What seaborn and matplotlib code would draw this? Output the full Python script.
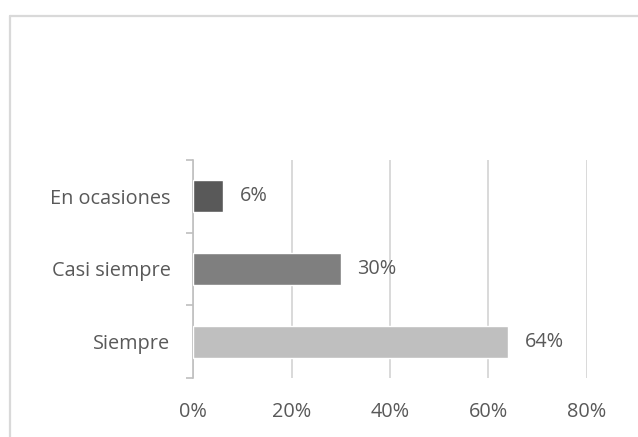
import matplotlib
matplotlib.use("Agg")
import matplotlib.pyplot as plt
from matplotlib.lines import Line2D
from matplotlib.ticker import FixedLocator
import seaborn as sns
import pandas as pd

categories = ["En ocasiones", "Casi siempre", "Siempre"]
values = [6, 30, 64]
bar_colors = ["#595959", "#7f7f7f", "#bfbfbf"]
x_ticks = [0, 20, 40, 60, 80]
x_tick_labels = ["0%", "20%", "40%", "60%", "80%"]

sns.set_style("white")
plt.rcParams["font.family"] = ["Open Sans", "DejaVu Sans"]

text_color = "#595959"
grid_color = "#d9d9d9"

df = pd.DataFrame({"categoria": categories, "porcentaje": values})

fig = plt.figure(figsize=(6.38, 4.37), dpi=100)
ax = fig.add_axes([0.303, 0.135, 0.6166, 0.499])

sns.barplot(data=df, x="porcentaje", y="categoria", hue="categoria",
            palette=bar_colors, order=categories, hue_order=categories,
            orient="h", width=0.44, edgecolor="white", linewidth=1.0,
            legend=False, ax=ax, zorder=3)

ax.set_xlim(0, 80)
ax.set_ylim(len(categories) - 0.5, -0.5)
ax.set_xticks(x_ticks)
ax.set_xticklabels(x_tick_labels)
ax.set_xlabel("")
ax.set_ylabel("")

# vertical gridlines behind the bars
ax.set_axisbelow(True)
ax.xaxis.grid(True, color=grid_color, linewidth=1.4)
ax.yaxis.grid(False)

for side in ["top", "right", "bottom"]:
    ax.spines[side].set_visible(False)
ax.spines["left"].set_color("#bfbfbf")
ax.spines["left"].set_linewidth(1.2)

# category boundary ticks on the category axis
ax.yaxis.set_minor_locator(FixedLocator([-0.5, 0.5, 1.5, 2.5]))
ax.tick_params(axis="y", which="minor", left=True, length=5, width=1.2,
               color="#bfbfbf", direction="out")
ax.tick_params(axis="y", which="major", left=True, length=0, pad=16.5,
               labelsize=14.3, labelcolor=text_color)
ax.tick_params(axis="x", which="major", length=0, pad=17,
               labelsize=14.3, labelcolor=text_color)

for container in ax.containers:
    ax.bar_label(container, labels=[f"{v:.0f}%" for v in container.datavalues],
                 padding=12, fontsize=14.3, color=text_color)

# chart frame
fig.add_artist(Line2D([9.5 / 638, 9.5 / 638], [0, 1 - 15.5 / 437],
                      transform=fig.transFigure, color=grid_color, linewidth=1.6))
fig.add_artist(Line2D([9.5 / 638, 1], [1 - 15.5 / 437, 1 - 15.5 / 437],
                      transform=fig.transFigure, color=grid_color, linewidth=1.6))

fig.savefig("out.png", dpi=100, facecolor="white")
